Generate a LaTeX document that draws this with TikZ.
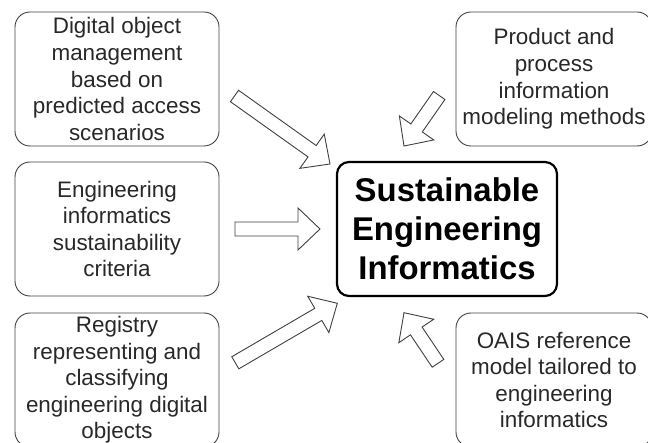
\documentclass[tikz,border=0pt]{standalone}
\usepackage{fontspec}
\setmainfont{Liberation Sans}
\usetikzlibrary{calc}
\definecolor{boxgray}{RGB}{64,64,64}
\definecolor{textgray}{RGB}{40,40,40}
\tikzset{box/.style={rectangle,draw=boxgray,line width=0.9bp,rounded corners=15bp,minimum width=204bp,minimum height=134bp,inner sep=0pt,align=center,text=textgray,font=\fontsize{22.5}{26.7}\selectfont}}
\tikzset{core/.style={rectangle,draw=black,line width=2.2bp,rounded corners=12bp,minimum width=220bp,minimum height=134bp,inner sep=0pt,align=center,font=\bfseries\fontsize{33}{39}\selectfont}}
\tikzset{fat/.style={draw=boxgray,line width=0.9bp,fill=white,line join=miter,
    to path={($(\tikztostart)!7bp!90:(\tikztotarget)$)
      -- ($(\tikztotarget)!23.09bp!-17.65:(\tikztostart)$)
      -- ($(\tikztotarget)!30.41bp!-43.67:(\tikztostart)$)
      -- (\tikztotarget)
      -- ($(\tikztotarget)!30.41bp!43.67:(\tikztostart)$)
      -- ($(\tikztotarget)!23.09bp!17.65:(\tikztostart)$)
      -- ($(\tikztostart)!7bp!-90:(\tikztotarget)$) -- cycle}}}

\begin{document}
\begin{tikzpicture}[x=1bp,y=-1bp]
  \path[use as bounding box,clip] (0,0) rectangle (648,443);

  % Contributing topics
  \node[box] (dom) at (117,79) {Digital object\\management\\based on\\predicted access\\scenarios};
  \node[box] (crit) at (117,229) {Engineering\\informatics\\sustainability\\criteria};
  \node[box] (reg) at (117,380) {Registry\\representing and\\classifying\\engineering digital\\objects};
  \node[box,minimum width=196bp] (prod) at (554,79) {Product and\\process\\information\\modeling methods};
  \node[box,minimum width=196bp] (oais) at (554,380) {OAIS reference\\model tailored to\\engineering\\informatics};

  % Central topic
  \node[core] (sei) at (447,229) {Sustainable\\Engineering\\Informatics};

  % Block arrows, tail -> tip
  \coordinate (t1) at (234.5,96);   \coordinate (h1) at (330,164);
  \coordinate (t2) at (235,229);    \coordinate (h2) at (320,229);
  \coordinate (t3) at (235.3,362.8);\coordinate (h3) at (337.3,303.3);
  \coordinate (t4) at (439.2,95.5); \coordinate (h4) at (404,146);
  \coordinate (t5) at (438,363.3);  \coordinate (h5) at (404,312.7);
  \foreach \s/\e in {t1/h1,t2/h2,t3/h3,t4/h4,t5/h5}
    \draw[fat] (\s) to (\e);
\end{tikzpicture}
\end{document}
